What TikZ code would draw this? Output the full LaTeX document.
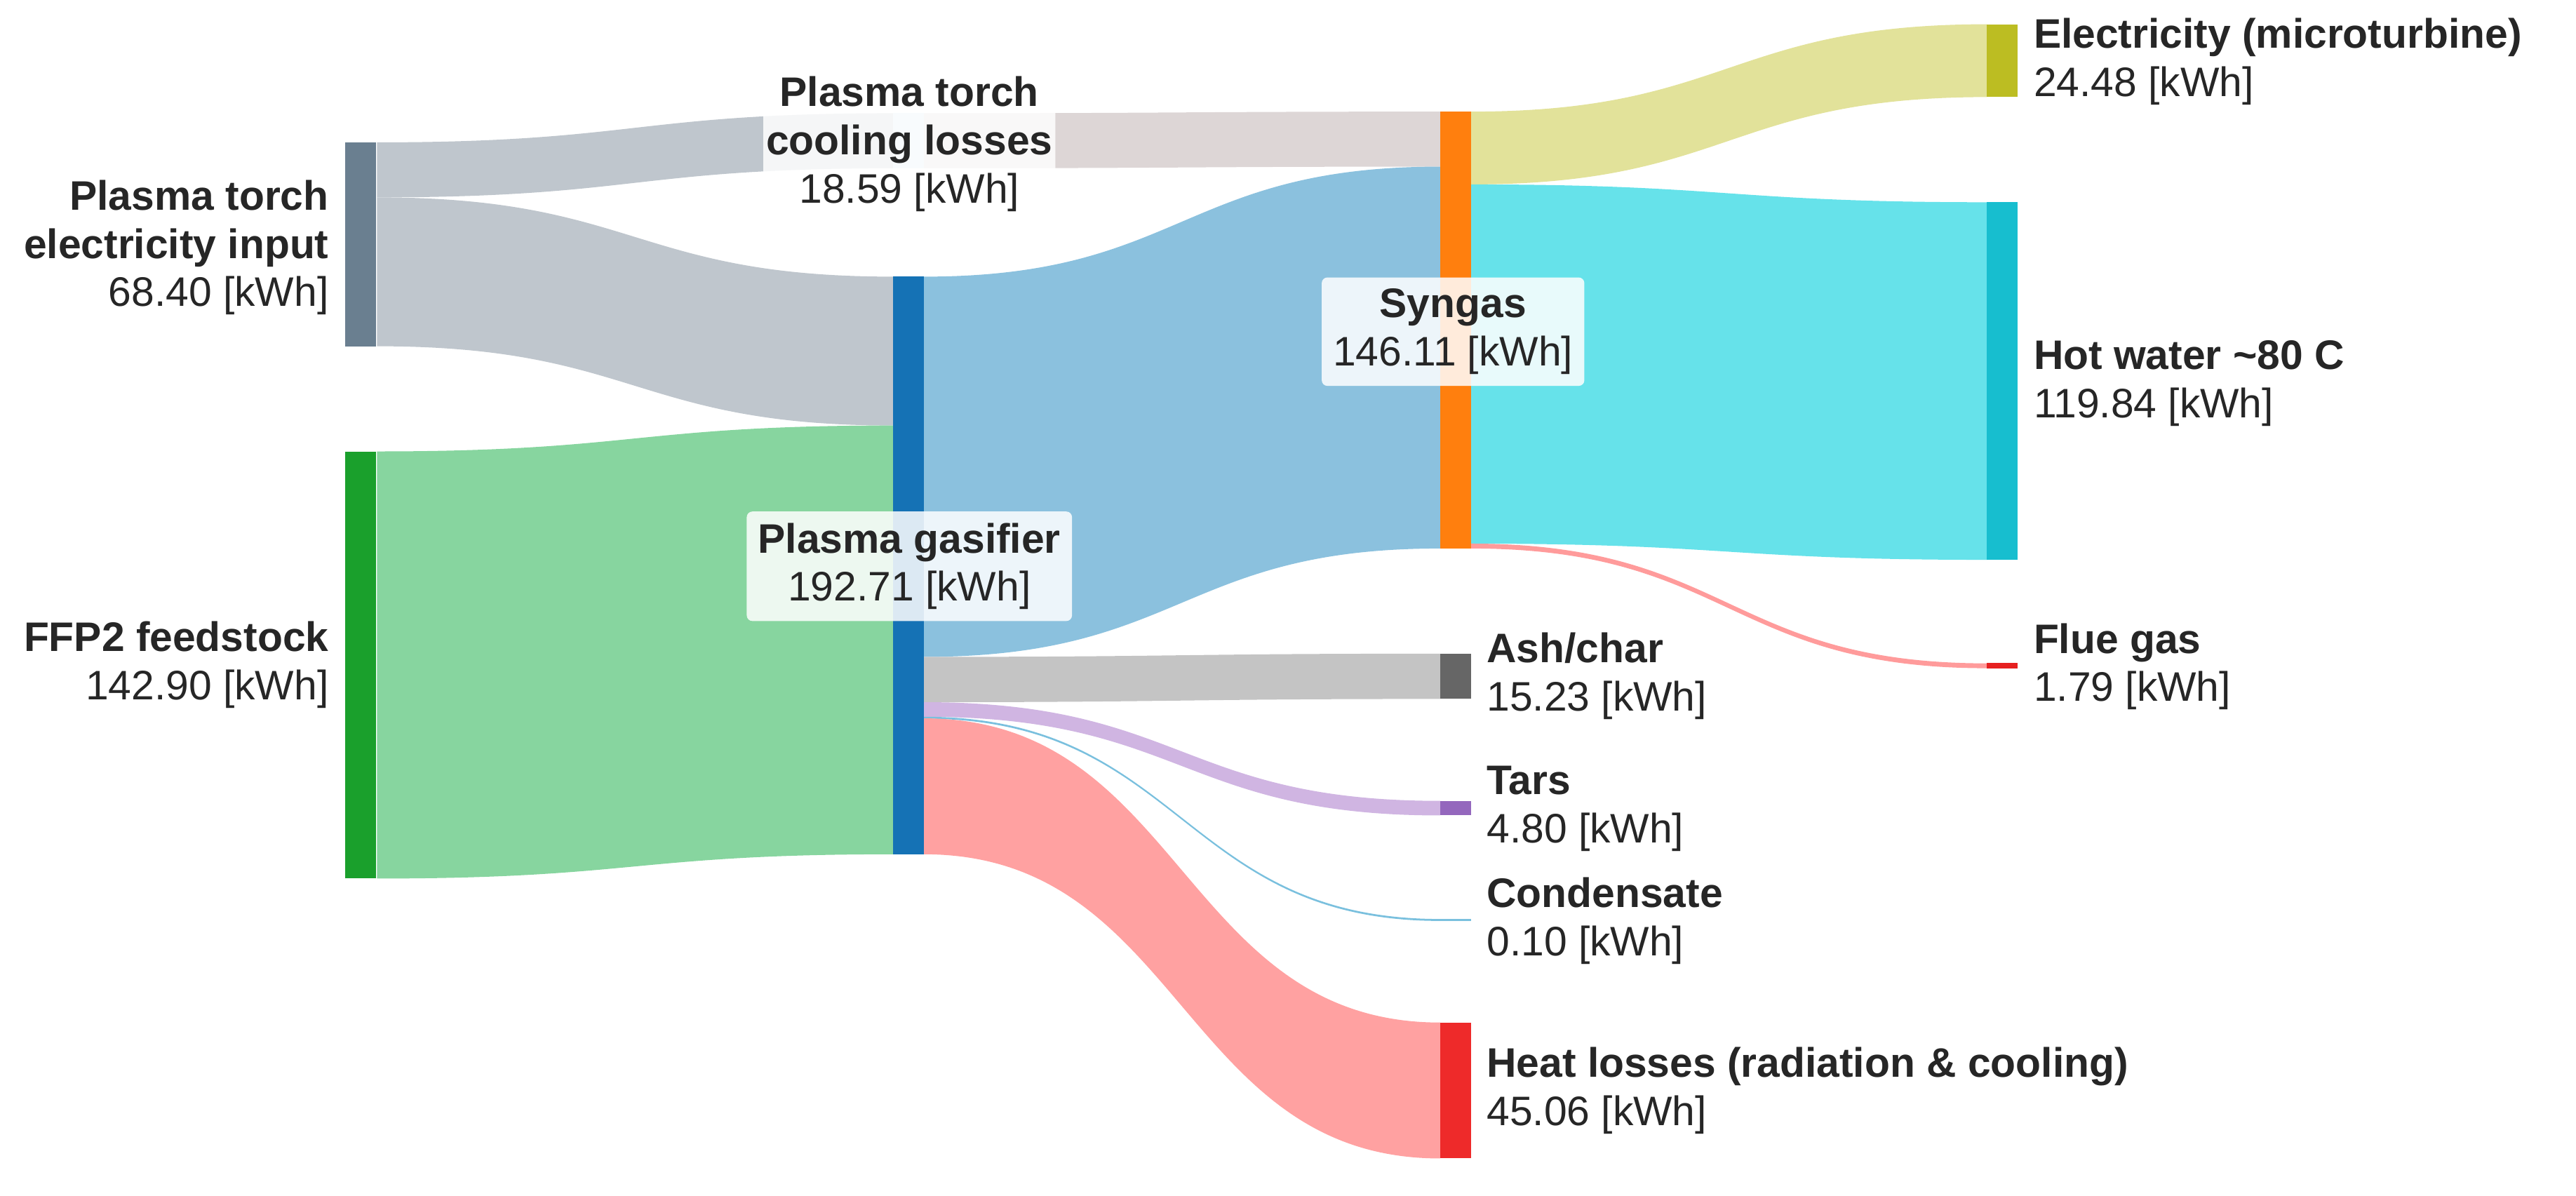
\documentclass[tikz,border=0pt]{standalone}
\usepackage{fontspec}
\setmainfont{Liberation Sans}
\begin{document}
\begin{tikzpicture}[x=0.2mm,y=-0.2mm,
  bar/.style={inner sep=0,minimum width=3.8mm},
  lab/.style={font=\fontsize{14.5}{17}\selectfont,text=black!85,inner sep=2pt},
  box/.style={lab,fill=white,fill opacity=0.85,text opacity=1,rounded corners=2pt,inner sep=4pt}]
\definecolor{cEl}{HTML}{6A7F90}\definecolor{fEl}{HTML}{BFC6CD}
\definecolor{cFF}{HTML}{1AA02C}\definecolor{fFF}{HTML}{87D59F}
\definecolor{cGa}{HTML}{1572B5}\definecolor{fGa}{HTML}{8BC1DE}
\definecolor{cSy}{HTML}{FF7F0E}\definecolor{cCo}{HTML}{D6EAF6}\definecolor{fCo}{HTML}{DDD6D6}
\definecolor{cMi}{HTML}{BCBD22}\definecolor{fMi}{HTML}{E2E29A}
\definecolor{cHw}{HTML}{17BECF}\definecolor{fHw}{HTML}{66E2EA}
\definecolor{cFl}{HTML}{E62020}\definecolor{fFl}{HTML}{FF9B9B}
\definecolor{cAs}{HTML}{666666}\definecolor{fAs}{HTML}{C4C4C4}
\definecolor{cTa}{HTML}{9467BD}\definecolor{fTa}{HTML}{D0B5E2}
\definecolor{fCd}{HTML}{7AC0DE}
\definecolor{cHe}{HTML}{EE2A2A}\definecolor{fHe}{HTML}{FFA1A1}
\newcommand\sflow[7]{% color, x1, a1, b1, x2, a2, b2
  \pgfmathsetmacro\xm{(#2+#5)/2}
  \fill[#1] (#2,#3) .. controls (\xm,#3) and (\xm,#6) .. (#5,#6) -- (#5,#7) .. controls (\xm,#7) and (\xm,#4) .. (#2,#4) -- cycle;}
\useasboundingbox (0,0) rectangle (1592,739);
% flows
\sflow{fEl}{233}{88}{122}{552}{70}{104}
\sflow{fEl}{233}{122}{214}{552}{171}{263}
\sflow{fFF}{233}{279}{543}{552}{263}{528}
\sflow{fCo}{571}{70}{104}{890}{69}{103}
\sflow{fGa}{571}{171}{406}{890}{103}{339}
\sflow{fAs}{571}{406}{434}{890}{404}{432}
\sflow{fTa}{571}{434}{443}{890}{495}{504}
\sflow{fCd}{571}{443}{444.2}{890}{568}{569.2}
\sflow{fHe}{571}{444}{528}{890}{632}{716}
\sflow{fMi}{909}{69}{114}{1228}{15}{60}
\sflow{fHw}{909}{114}{336}{1228}{125}{346}
\sflow{fFl}{909}{336}{339}{1228}{410}{413}
% nodes
\node[bar,fill=cEl,minimum height=25.2mm] (el) at (223,151) {};
\node[bar,fill=cFF,minimum height=52.8mm] (ff) at (223,411) {};
\node[bar,fill=cCo,minimum height=6.8mm] (co) at (561.5,87) {};
\node[bar,fill=cGa,minimum height=71.4mm] (ga) at (561.5,349.5) {};
\node[bar,fill=cSy,minimum height=54mm] (sy) at (899.5,204) {};
\node[bar,fill=cMi,minimum height=9mm] (mi) at (1237.5,37.5) {};
\node[bar,fill=cHw,minimum height=44.2mm] (hw) at (1237.5,235.5) {};
\node[bar,fill=cFl,minimum height=0.7mm] (fl) at (1237.5,411.5) {};
\node[bar,fill=cAs,minimum height=5.6mm] (as) at (899.5,418) {};
\node[bar,fill=cTa,minimum height=1.8mm] (ta) at (899.5,499.5) {};
\node[bar,fill=fCd,minimum height=0.3mm] (cd) at (899.5,568.5) {};
\node[bar,fill=cHe,minimum height=16.8mm] (he) at (899.5,674) {};
% labels
\node[lab,anchor=east,align=right] (lel) at (207,153) {\textbf{Plasma torch}\\\textbf{electricity input}\\68.40 [kWh]};
\node[lab,anchor=east,align=right] (lff) at (207,411) {\textbf{FFP2 feedstock}\\142.90 [kWh]};
\node[box,align=center,inner sep=1pt] (lco) at (562,89) {\textbf{Plasma torch}\\\textbf{cooling losses}\\18.59 [kWh]};
\node[box,align=center] (lga) at (562,350) {\textbf{Plasma gasifier}\\192.71 [kWh]};
\node[box,align=center] (lsy) at (898,205) {\textbf{Syngas}\\146.11 [kWh]};
\node[lab,anchor=west,align=left] (lmi) at (1253,38) {\textbf{Electricity (microturbine)}\\24.48 [kWh]};
\node[lab,anchor=west,align=left] (lhw) at (1253,237) {\textbf{Hot water \textasciitilde80 C}\\119.84 [kWh]};
\node[lab,anchor=west,align=left] (lfl) at (1253,412) {\textbf{Flue gas}\\1.79 [kWh]};
\node[lab,anchor=west,align=left] (las) at (915,418) {\textbf{Ash/char}\\15.23 [kWh]};
\node[lab,anchor=west,align=left] (lta) at (915,500) {\textbf{Tars}\\4.80 [kWh]};
\node[lab,anchor=west,align=left] (lcd) at (915,569) {\textbf{Condensate}\\0.10 [kWh]};
\node[lab,anchor=west,align=left] (lhe) at (915,674) {\textbf{Heat losses (radiation \& cooling)}\\45.06 [kWh]};
\end{tikzpicture}
\end{document}
